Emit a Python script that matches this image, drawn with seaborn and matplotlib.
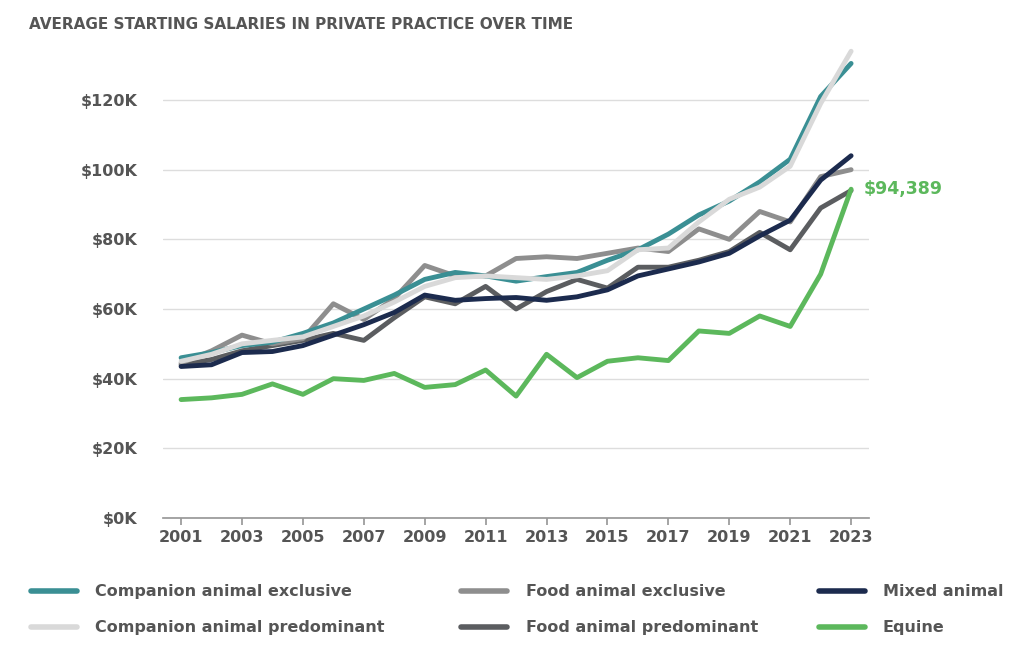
import numpy as np
import pandas as pd
import seaborn as sns
import matplotlib
matplotlib.use("Agg")
import matplotlib.pyplot as plt
from matplotlib.ticker import FuncFormatter

years = list(range(2001, 2024))
comp_excl = [46, 47.5, 49.5, 50.5, 53, 56, 60, 64, 68.5, 70.5, 69.5, 68, 69.3, 70.5, 74, 77, 81.5, 87, 91, 96.5, 103, 121, 130.5]
comp_pred = [45, 47, 50, 51, 52, 55, 58, 62, 66.5, 69, 69.5, 69, 68.5, 69.5, 71, 77, 77.5, 85, 91.5, 95, 101, 119, 134]
food_excl = [44.5, 48, 52.5, 50, 51.5, 61.5, 57, 63, 72.5, 69.5, 69.5, 74.5, 75, 74.5, 76, 77.5, 76.5, 83, 80, 88, 85, 98, 100]
food_pred = [44, 45.5, 48, 49.5, 51, 53, 51, 57.5, 63.5, 61.5, 66.5, 60, 65, 68.5, 66, 72, 72, 74, 76.5, 82, 77, 89, 94]
mixed = [43.5, 44, 47.5, 47.8, 49.5, 52.5, 55.5, 59, 64, 62.5, 63, 63.3, 62.5, 63.5, 65.5, 69.5, 71.5, 73.5, 76, 81, 85.5, 97, 104]
equine = [34, 34.5, 35.5, 38.5, 35.5, 40, 39.5, 41.5, 37.5, 38.3, 42.5, 35, 47, 40.3, 45, 46, 45.2, 53.7, 53, 58, 55, 70, 94.389]

series = {
    "Companion animal exclusive": (comp_excl, "#3a8f94"),
    "Companion animal predominant": (comp_pred, "#d9d9d9"),
    "Food animal exclusive": (food_excl, "#8e8e8e"),
    "Food animal predominant": (food_pred, "#5b5d60"),
    "Mixed animal": (mixed, "#1c2b4e"),
    "Equine": (equine, "#5cb85c"),
}
# draw order like the reference (light grey over teal)
order = ["Food animal predominant", "Food animal exclusive", "Mixed animal",
         "Companion animal exclusive", "Companion animal predominant", "Equine"]

sns.set_theme(style="white")
plt.rcParams['font.family'] = ['DejaVu Sans']
fig = plt.figure(figsize=(10.24, 6.52), dpi=100)
ax = fig.add_axes([0.159, 0.2055, 0.690, 0.7266])

for name in order:
    vals, col = series[name]
    sns.lineplot(x=years, y=vals, color=col, linewidth=3.5, ax=ax, label=name)

ax.set_ylim(0, 136)
ax.set_xlim(2000.4, 2023.6)
ax.set_yticks(range(0, 121, 20))
ax.yaxis.set_major_formatter(FuncFormatter(lambda v, p: f"${int(v)}K"))
ax.set_xticks(range(2001, 2024, 2))
ax.grid(axis="y", color="#dddddd", linewidth=1)
for s in ["top", "right", "left"]:
    ax.spines[s].set_visible(False)
ax.spines["bottom"].set_color("#999999")
ax.tick_params(axis="x", bottom=True, length=5, color="#999999")
ax.tick_params(axis="y", pad=12)
for lab in ax.get_xticklabels() + ax.get_yticklabels():
    lab.set_fontweight("bold")
    lab.set_color("#555555")
    lab.set_fontsize(11.5)
ax.get_legend().remove()
ax.text(2023.4, equine[-1], "$94,389", color="#5cb85c", fontsize=12.5,
        fontweight="bold", va="center")

fig.text(0.028, 0.955, "AVERAGE STARTING SALARIES IN PRIVATE PRACTICE OVER TIME",
         fontsize=11, fontweight="bold", color="#555555")

legend_pos = {
    "Companion animal exclusive": (0.03, 0.093, 0.093),
    "Companion animal predominant": (0.03, 0.038, 0.093),
    "Food animal exclusive": (0.45, 0.093, 0.514),
    "Food animal predominant": (0.45, 0.038, 0.514),
    "Mixed animal": (0.80, 0.093, 0.862),
    "Equine": (0.80, 0.038, 0.862),
}
for name, (x0, y0, tx) in legend_pos.items():
    col = series[name][1]
    fig.add_artist(plt.Line2D([x0, x0 + 0.045], [y0, y0], color=col, linewidth=4))
    fig.text(tx, y0, name, fontsize=11.5, fontweight="bold", color="#555555", va="center")

fig.savefig("out.png", dpi=100)
